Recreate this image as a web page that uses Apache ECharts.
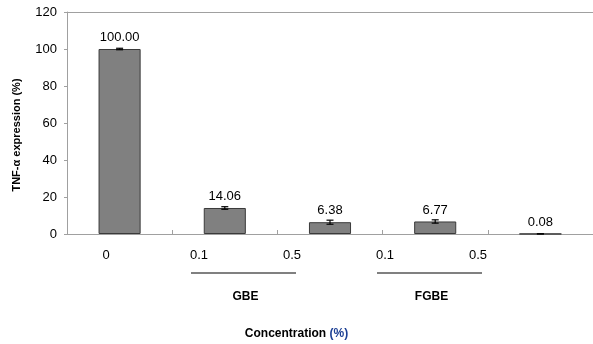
<!DOCTYPE html>
<html>
<head>
<meta charset="utf-8">
<script src="https://cdn.jsdelivr.net/npm/echarts@6/dist/echarts.min.js"></script>
<style>html,body{margin:0;padding:0;background:#fff}#c{width:593px;height:344px}</style>
</head>
<body>
<div id="c"></div>
<script>
const categories = ['0', '0.1', '0.5', '0.1', '0.5'];
const values = [100.00, 14.06, 6.38, 6.77, 0.08];
const errors = [0.4, 0.7, 1.1, 0.9, 0.05];
const valueLabels = ['100.00', '14.06', '6.38', '6.77', '0.08'];
const groups = [[1, 2, 'GBE'], [3, 4, 'FGBE']];
const yTicks = [0, 20, 40, 60, 80, 100, 120];

const FONT = 'Liberation Sans';
const chart = echarts.init(document.getElementById('c'), null, {renderer: 'canvas'});

chart.setOption({
  animation: false,
  backgroundColor: '#fff',
  textStyle: {fontFamily: FONT},
  title: {
    text: 'Concentration {b|(%)}',
    left: 'center',
    top: 323,
    textStyle: {
      fontFamily: FONT, fontSize: 12, fontWeight: 'bold', color: '#000',
      rich: {b: {fontFamily: FONT, fontSize: 12, fontWeight: 'bold', color: '#1c3f94'}}
    }
  },
  grid: [
    {left: 67, right: -3, top: 12, bottom: 110},
    {left: 59.5, width: 465, top: 264, height: 40}
  ],
  xAxis: [
    {
      type: 'category', gridIndex: 0, data: categories,
      axisLine: {lineStyle: {color: '#a0a0a0'}},
      axisTick: {show: true, inside: true, length: 4, alignWithLabel: false, lineStyle: {color: '#a0a0a0'}},
      axisLabel: {show: false}
    },
    {
      type: 'category', gridIndex: 1, data: categories, position: 'top',
      axisLine: {show: false}, axisTick: {show: false},
      axisLabel: {show: true, margin: 2, fontSize: 13, color: '#000', fontFamily: FONT}
    },
    {
      type: 'category', gridIndex: 0, data: categories, position: 'top',
      axisLine: {show: true, lineStyle: {color: '#a0a0a0'}},
      axisTick: {show: false}, axisLabel: {show: false}
    }
  ],
  yAxis: [
    {
      type: 'value', gridIndex: 0, min: 0, max: 120, interval: 20,
      name: 'TNF-α expression (%)', nameLocation: 'middle', nameGap: 45, nameRotate: 90,
      nameTextStyle: {fontSize: 11, fontWeight: 'bold', color: '#000', fontFamily: FONT, padding: [0, 24, 0, 0]},
      axisLine: {show: true, lineStyle: {color: '#a0a0a0'}},
      axisTick: {show: true, length: 3, lineStyle: {color: '#a0a0a0'}},
      splitLine: {show: false},
      axisLabel: {fontSize: 13, color: '#000', margin: 10, fontFamily: FONT,
        formatter: v => yTicks.indexOf(v) >= 0 ? String(v) : ''}
    },
    {type: 'value', gridIndex: 1, min: 0, max: 40, inverse: true, show: false}
  ],
  series: [
    {
      type: 'bar', xAxisIndex: 0, yAxisIndex: 0, data: values, barWidth: '40%',
      itemStyle: {color: '#808080', borderColor: '#3a3a3a', borderWidth: 1},
      label: {show: true, position: 'top', distance: 5, fontSize: 13, color: '#000', fontFamily: FONT,
        formatter: p => valueLabels[p.dataIndex]}
    },
    {
      type: 'custom', xAxisIndex: 0, yAxisIndex: 0,
      data: values.map((v, i) => [i, v, errors[i]]),
      renderItem: (params, api) => {
        const x = api.value(0), v = api.value(1), e = api.value(2);
        const hi = api.coord([x, v + e]), lo = api.coord([x, Math.max(0, v - e)]);
        const w = 3.5;
        const st = {stroke: '#000', lineWidth: 1.2};
        return {type: 'group', children: [
          {type: 'line', shape: {x1: hi[0], y1: hi[1], x2: lo[0], y2: lo[1]}, style: st},
          {type: 'line', shape: {x1: hi[0] - w, y1: hi[1], x2: hi[0] + w, y2: hi[1]}, style: st},
          {type: 'line', shape: {x1: lo[0] - w, y1: lo[1], x2: lo[0] + w, y2: lo[1]}, style: st}
        ]};
      },
      z: 5
    },
    {
      type: 'custom', xAxisIndex: 1, yAxisIndex: 1,
      data: groups,
      renderItem: (params, api) => {
        const a = api.coord([api.value(0), 0]);
        const b = api.coord([api.value(1), 0]);
        const name = groups[params.dataIndex][2];
        return {type: 'group', children: [
          {type: 'line', shape: {x1: a[0] - 8, y1: a[1] + 9, x2: b[0] + 4, y2: b[1] + 9},
            style: {stroke: '#808080', lineWidth: 2}},
          {type: 'text', x: (a[0] + b[0]) / 2, y: a[1] + 33,
            style: {text: name, fontFamily: FONT, fontSize: 12, fontWeight: 'bold', fill: '#000',
              align: 'center', verticalAlign: 'middle'}}
        ]};
      }
    }
  ]
});
</script>
</body>
</html>
